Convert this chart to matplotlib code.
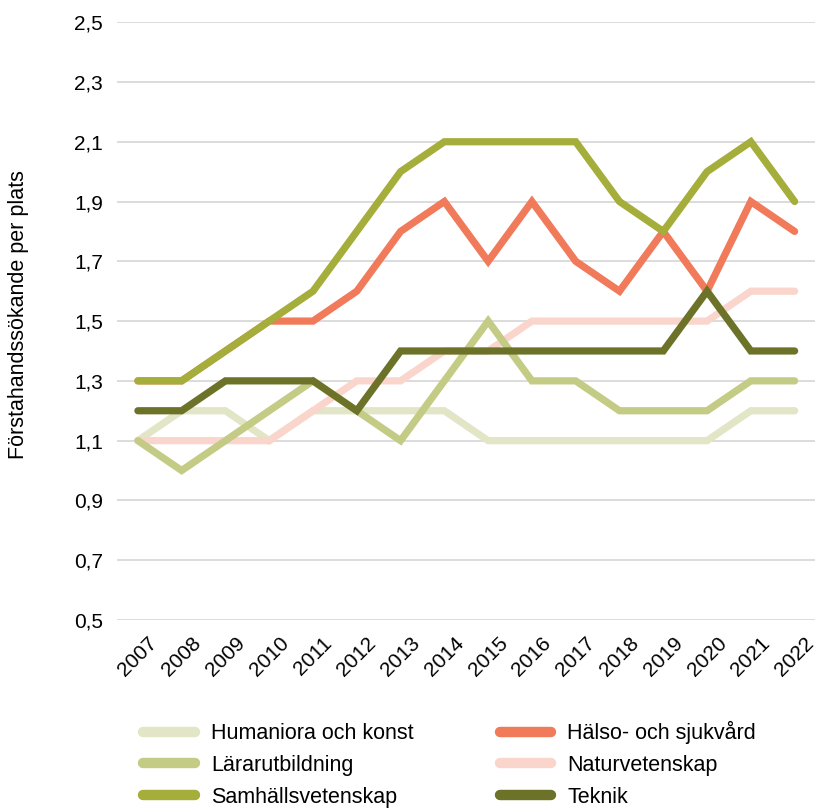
import matplotlib.pyplot as plt
from matplotlib.lines import Line2D

plt.rcParams['font.family'] = ['Liberation Sans', 'DejaVu Sans']

years = list(range(2007, 2023))

humaniora = [1.1, 1.2, 1.2, 1.1, 1.2, 1.2, 1.2, 1.2, 1.1, 1.1, 1.1, 1.1, 1.1, 1.1, 1.2, 1.2]
halso = [1.3, 1.3, 1.4, 1.5, 1.5, 1.6, 1.8, 1.9, 1.7, 1.9, 1.7, 1.6, 1.8, 1.6, 1.9, 1.8]
natur = [1.1, 1.1, 1.1, 1.1, 1.2, 1.3, 1.3, 1.4, 1.4, 1.5, 1.5, 1.5, 1.5, 1.5, 1.6, 1.6]
larar = [1.1, 1.0, 1.1, 1.2, 1.3, 1.2, 1.1, 1.3, 1.5, 1.3, 1.3, 1.2, 1.2, 1.2, 1.3, 1.3]
samhall = [1.3, 1.3, 1.4, 1.5, 1.6, 1.8, 2.0, 2.1, 2.1, 2.1, 2.1, 1.9, 1.8, 2.0, 2.1, 1.9]
teknik = [1.2, 1.2, 1.3, 1.3, 1.3, 1.2, 1.4, 1.4, 1.4, 1.4, 1.4, 1.4, 1.4, 1.6, 1.4, 1.4]

series = [
    ("Humaniora och konst", humaniora, "#e2e5c6"),
    ("Hälso- och sjukvård", halso, "#f07a5a"),
    ("Naturvetenskap", natur, "#fad5cc"),
    ("Lärarutbildning", larar, "#c4cb84"),
    ("Samhällsvetenskap", samhall, "#a5ad3b"),
    ("Teknik", teknik, "#6c7228"),
]
legend_order = ["Humaniora och konst", "Lärarutbildning", "Samhällsvetenskap",
                "Hälso- och sjukvård", "Naturvetenskap", "Teknik"]

fig = plt.figure(figsize=(8.23, 8.10), dpi=100)
ax = fig.add_axes([0.142, 0.2346, 0.848, 0.738])

handles = {}
for name, vals, col in series:
    ax.plot(years, vals, color=col, lw=5.2, solid_capstyle='round',
            solid_joinstyle='miter', clip_on=False, zorder=3)
    handles[name] = Line2D([], [], color=col, lw=7.5, solid_capstyle='round')

ax.set_ylim(0.5, 2.5)
ax.set_xlim(2006.52, 2022.46)
yt = [0.5, 0.7, 0.9, 1.1, 1.3, 1.5, 1.7, 1.9, 2.1, 2.3, 2.5]
ax.set_yticks(yt)
ax.set_yticklabels([f"{v:.1f}".replace('.', ',') for v in yt], fontsize=15)
ax.set_xticks(years)
ax.set_xticklabels([str(y) for y in years], rotation=45, ha='center', fontsize=15)
ax.tick_params(axis='both', length=0)
ax.tick_params(axis='y', pad=10)
ax.tick_params(axis='x', pad=10)
ax.grid(axis='y', color='#d6d6d6', lw=1.2)
ax.set_axisbelow(True)
for s in ax.spines.values():
    s.set_visible(False)
fig.text(19 / 823, 1 - 315 / 810, "Förstahandssökande per plats", rotation=90,
         ha='center', va='center', fontsize=15.5)

fig.legend([handles[n] for n in legend_order], legend_order, ncol=2,
           loc='upper left', bbox_to_anchor=(143 / 823, 1 - 721 / 810), frameon=False,
           fontsize=15.5, handlelength=2.4, handletextpad=0.75,
           columnspacing=4.0, labelspacing=0.5, borderpad=0, borderaxespad=0)

fig.savefig("out.png", dpi=100)
